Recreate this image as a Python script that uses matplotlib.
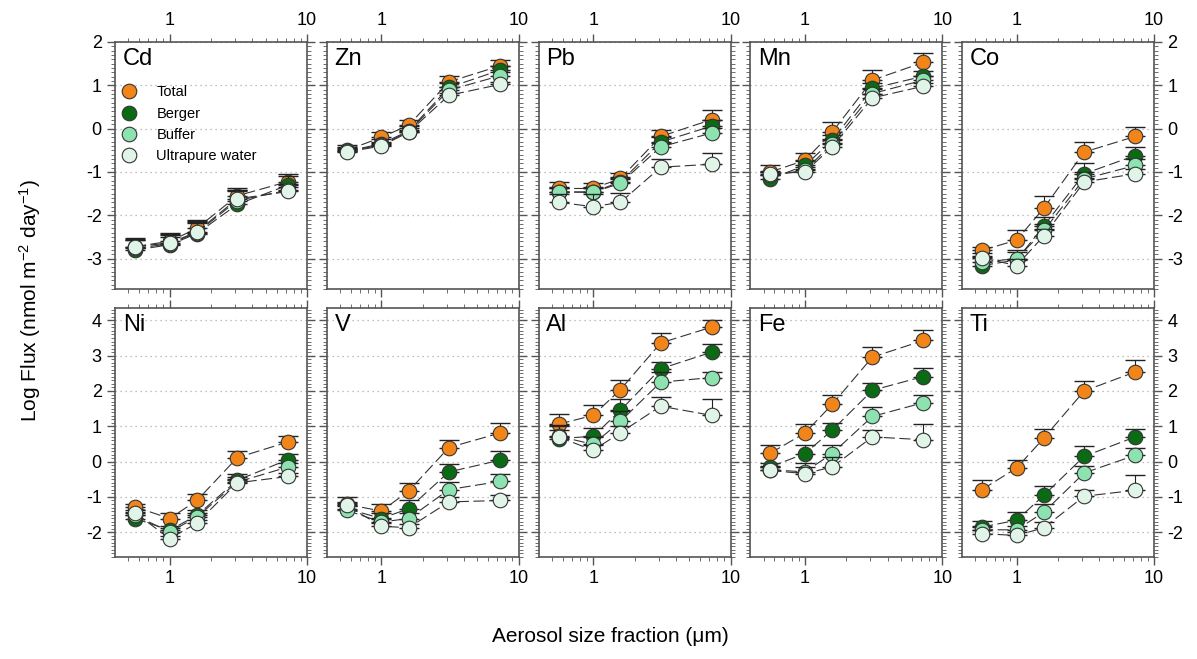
import matplotlib
matplotlib.use('Agg')
import matplotlib.pyplot as plt
from matplotlib.ticker import FixedLocator, MultipleLocator, NullFormatter
from matplotlib.lines import Line2D

plt.rcParams['font.family'] = ['Liberation Sans', 'DejaVu Sans']
plt.rcParams['axes.unicode_minus'] = False
plt.rcParams['mathtext.default'] = 'regular'

# aerosol size fractions (um)
size_um = [0.56, 1.0, 1.58, 3.1, 7.3]
series = ['Total', 'Berger', 'Buffer', 'Ultrapure water']
colors = ['#f2851a', '#0b6a14', '#8de3b0', '#e0f5e8']

# log flux, rows: Total, Berger, Buffer, Ultrapure water
cd_flux = [[-2.72, -2.60, -2.30, -1.55, -1.22],
           [-2.80, -2.68, -2.42, -1.75, -1.30],
           [-2.76, -2.66, -2.40, -1.66, -1.42],
           [-2.72, -2.64, -2.38, -1.62, -1.45]]
cd_err = [[0.20, 0.20, 0.20, 0.17, 0.18],
          [0.25, 0.25, 0.30, 0.30, 0.20],
          [0.20, 0.20, 0.25, 0.25, 0.15],
          [0.15, 0.15, 0.20, 0.20, 0.10]]

zn_flux = [[-0.50, -0.20, 0.08, 1.08, 1.45],
           [-0.52, -0.35, -0.05, 0.95, 1.35],
           [-0.52, -0.38, -0.07, 0.89, 1.22],
           [-0.54, -0.40, -0.08, 0.77, 1.02]]
zn_err = [[0.12, 0.12, 0.13, 0.13, 0.13],
          [0.10, 0.10, 0.10, 0.10, 0.10],
          [0.08, 0.08, 0.08, 0.08, 0.08],
          [0.06, 0.06, 0.06, 0.06, 0.06]]

pb_flux = [[-1.38, -1.38, -1.15, -0.18, 0.21],
           [-1.46, -1.46, -1.23, -0.31, 0.06],
           [-1.46, -1.47, -1.26, -0.42, -0.10],
           [-1.70, -1.80, -1.70, -0.89, -0.82]]
pb_err = [[0.15, 0.13, 0.12, 0.14, 0.22],
          [0.12, 0.12, 0.12, 0.12, 0.15],
          [0.10, 0.10, 0.10, 0.10, 0.12],
          [0.20, 0.30, 0.21, 0.18, 0.26]]

mn_flux = [[-1.00, -0.73, -0.08, 1.12, 1.53],
           [-1.16, -0.85, -0.27, 0.93, 1.21],
           [-1.08, -0.96, -0.35, 0.81, 1.12],
           [-1.04, -1.00, -0.42, 0.71, 0.98]]
mn_err = [[0.15, 0.17, 0.24, 0.23, 0.21],
          [0.10, 0.10, 0.12, 0.12, 0.12],
          [0.08, 0.08, 0.10, 0.10, 0.10],
          [0.06, 0.06, 0.08, 0.08, 0.08]]

co_flux = [[-2.81, -2.57, -1.83, -0.54, -0.18],
           [-3.16, -3.03, -2.24, -1.04, -0.62],
           [-3.08, -3.00, -2.35, -1.16, -0.85],
           [-2.98, -3.16, -2.47, -1.23, -1.04]]
co_err = [[0.09, 0.22, 0.27, 0.23, 0.22],
          [0.20, 0.24, 0.20, 0.25, 0.19],
          [0.15, 0.15, 0.15, 0.15, 0.15],
          [0.10, 0.15, 0.15, 0.10, 0.10]]

ni_flux = [[-1.28, -1.61, -1.10, 0.11, 0.56],
           [-1.61, -1.94, -1.52, -0.53, 0.06],
           [-1.52, -1.99, -1.57, -0.58, -0.15],
           [-1.45, -2.18, -1.74, -0.60, -0.42]]
ni_err = [[0.07, 0.16, 0.19, 0.18, 0.16],
          [0.10, 0.12, 0.15, 0.19, 0.15],
          [0.10, 0.10, 0.12, 0.15, 0.12],
          [0.08, 0.08, 0.10, 0.10, 0.10]]

v_flux = [[-1.21, -1.40, -0.83, 0.40, 0.81],
          [-1.33, -1.61, -1.33, -0.29, 0.04],
          [-1.38, -1.71, -1.61, -0.79, -0.56],
          [-1.24, -1.83, -1.87, -1.14, -1.10]]
v_err = [[0.21, 0.19, 0.23, 0.22, 0.28],
         [0.15, 0.15, 0.25, 0.23, 0.26],
         [0.12, 0.12, 0.15, 0.21, 0.20],
         [0.10, 0.10, 0.10, 0.14, 0.15]]

al_flux = [[1.06, 1.31, 2.04, 3.36, 3.81],
           [0.65, 0.72, 1.45, 2.63, 3.10],
           [0.72, 0.49, 1.14, 2.25, 2.38],
           [0.70, 0.32, 0.82, 1.57, 1.31]]
al_err = [[0.28, 0.30, 0.26, 0.28, 0.21],
          [0.40, 0.23, 0.33, 0.19, 0.24],
          [0.30, 0.20, 0.30, 0.29, 0.16],
          [0.20, 0.15, 0.20, 0.26, 0.47]]

fe_flux = [[0.24, 0.81, 1.62, 2.96, 3.43],
           [-0.15, 0.23, 0.89, 2.02, 2.41],
           [-0.23, -0.29, 0.23, 1.28, 1.67],
           [-0.25, -0.34, -0.15, 0.70, 0.62]]
fe_err = [[0.22, 0.26, 0.28, 0.28, 0.31],
          [0.10, 0.23, 0.21, 0.22, 0.24],
          [0.10, 0.24, 0.23, 0.26, 0.21],
          [0.10, 0.19, 0.27, 0.20, 0.45]]

ti_flux = [[-0.79, -0.18, 0.67, 2.00, 2.54],
           [-1.85, -1.66, -0.95, 0.15, 0.70],
           [-1.93, -1.93, -1.43, -0.32, 0.18],
           [-2.04, -2.09, -1.87, -0.98, -0.81]]
ti_err = [[0.26, 0.24, 0.24, 0.27, 0.33],
          [0.16, 0.23, 0.25, 0.28, 0.21],
          [0.10, 0.11, 0.22, 0.21, 0.20],
          [0.10, 0.10, 0.15, 0.19, 0.44]]

top_elements = ['Cd', 'Zn', 'Pb', 'Mn', 'Co']
bottom_elements = ['Ni', 'V', 'Al', 'Fe', 'Ti']
top_data = [(cd_flux, cd_err), (zn_flux, zn_err), (pb_flux, pb_err),
            (mn_flux, mn_err), (co_flux, co_err)]
bottom_data = [(ni_flux, ni_err), (v_flux, v_err), (al_flux, al_err),
               (fe_flux, fe_err), (ti_flux, ti_err)]

W, H = 1197, 659
fig = plt.figure(figsize=(W / 100, H / 100), dpi=100)

spine_col = '#555555'


def draw_panel(ax, name, flux, err, row, col):
    for k in range(4):
        lower = [0] * len(err[k])
        ax.errorbar(size_um, flux[k], yerr=[lower, err[k]], fmt='none',
                    ecolor='#222222', elinewidth=0.8, capsize=7,
                    capthick=1.0, zorder=2 + k)
        ax.plot(size_um, flux[k], color='#333333', lw=0.8,
                dashes=(10, 4), marker='o', markersize=10.5,
                markerfacecolor=colors[k], markeredgecolor='#333333',
                markeredgewidth=0.8, zorder=2.5 + k)
    ax.set_xscale('log')
    ax.set_xlim(0.4, 10)
    if row == 0:
        ax.set_ylim(-3.7, 2.0)
        ax.yaxis.set_major_locator(FixedLocator([-3, -2, -1, 0, 1, 2]))
    else:
        ax.set_ylim(-2.7, 4.35)
        ax.yaxis.set_major_locator(FixedLocator([-2, -1, 0, 1, 2, 3, 4]))
    ax.yaxis.set_minor_locator(MultipleLocator(0.1))
    ax.xaxis.set_major_locator(FixedLocator([1, 10]))
    ax.xaxis.set_minor_locator(FixedLocator([0.5, 0.6, 0.7, 0.8, 0.9,
                                             2, 3, 4, 5, 6, 7, 8, 9]))
    ax.xaxis.set_minor_formatter(NullFormatter())
    ax.set_xticklabels(['1', '10'])
    ax.grid(axis='y', which='major', linestyle=(0, (1, 3)), color='#aaaaaa', lw=0.9)
    ax.set_axisbelow(True)
    for s in ax.spines.values():
        s.set_color(spine_col)
        s.set_linewidth(1.2)
    ax.tick_params(which='both', direction='out', colors=spine_col,
                   labelcolor='black', labelsize=13,
                   top=True, bottom=True, left=True, right=True)
    ax.tick_params(which='major', length=6, width=1.0)
    ax.tick_params(which='minor', length=3, width=0.6)
    ax.tick_params(axis='x', labeltop=(row == 0), labelbottom=(row == 1))
    ax.tick_params(axis='y', labelleft=(col == 0), labelright=(col == 4))
    ax.text(0.04, 0.975, name, transform=ax.transAxes, ha='left', va='top',
            fontsize=17)


for row, (names, data) in enumerate([(top_elements, top_data),
                                     (bottom_elements, bottom_data)]):
    for col in range(5):
        left = (115 + col * 211.75) / W
        width = 192 / W
        if row == 0:
            bottom, height = 1 - 289 / H, (289 - 42) / H
        else:
            bottom, height = 1 - 557 / H, (557 - 308) / H
        ax = fig.add_axes([left, bottom, width, height])
        flux, err = data[col]
        draw_panel(ax, names[col], flux, err, row, col)
        if row == 0 and col == 0:
            handles = [Line2D([], [], ls='none', marker='o', markersize=10.5,
                              markerfacecolor=c, markeredgecolor='#333333',
                              markeredgewidth=0.8) for c in colors]
            ax.legend(handles, series, loc='upper left',
                      bbox_to_anchor=(-0.02, 0.86), frameon=False,
                      fontsize=10.5, handletextpad=1.3, labelspacing=0.5,
                      handlelength=1.2, borderaxespad=0.2)

fig.text(0.025, (1 - 300 / H), 'Log Flux (nmol m$^{-2}$ day$^{-1}$)',
         rotation=90, ha='center', va='center', fontsize=15)
fig.text(0.51, 1 - 637 / H, 'Aerosol size fraction (\u03bcm)',
         ha='center', va='center', fontsize=15)

fig.savefig('out.png', dpi=100)
